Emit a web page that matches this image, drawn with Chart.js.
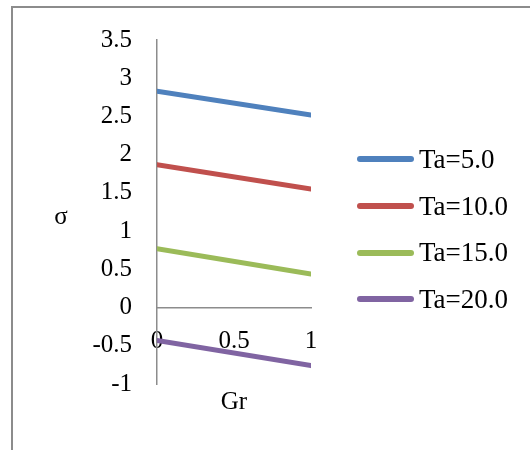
<!DOCTYPE html>
<html>
<head>
<meta charset="utf-8">
<script src="https://cdn.jsdelivr.net/npm/chart.js@4"></script>
<style>
  html, body { margin: 0; padding: 0; background: #fff; overflow: hidden; }
  #frame { position: absolute; left: 11px; top: 6px; width: 540px; height: 460px;
           border-left: 2px solid #8c8c8c; border-top: 2px solid #8c8c8c; }
  #wrap  { position: absolute; left: 0; top: 0; width: 530px; height: 450px; }
  #legend { position: absolute; left: 357px; top: 136px; margin: 0; padding: 0; list-style: none;
            font: 27px 'Liberation Serif', 'DejaVu Serif', serif; color: #000; }
  #legend li { display: flex; align-items: center; height: 46.7px; white-space: nowrap; }
  #legend .bar { display: inline-block; width: 57px; height: 6px; border-radius: 3px; margin-right: 5px; }
</style>
</head>
<body>
<div id="frame"></div>
<div id="wrap"><canvas id="chart"></canvas></div>
<ul id="legend"></ul>
<script>
// ── Data ───────────────────────────────────────────────────────
const grValues   = [0, 1];
const seriesName = ["Ta=5.0", "Ta=10.0", "Ta=15.0", "Ta=20.0"];
const sigmaTa5   = [2.83, 2.52];
const sigmaTa10  = [1.87, 1.55];
const sigmaTa15  = [0.77, 0.44];
const sigmaTa20  = [-0.43, -0.76];
const yMin = -1, yMax = 3.5, yStep = 0.5;
const xMin = 0,  xMax = 1,   xStep = 0.5;

const COLORS = ["#4F81BD", "#C0504D", "#9BBB59", "#8064A2"];
const AXIS   = "#8c8c8c";
const FONT   = "'Liberation Serif', 'DejaVu Serif', serif";

Chart.defaults.font.family = FONT;
Chart.defaults.font.size   = 25;
Chart.defaults.color       = "#000";

const toPts = ys => ys.map((y, i) => ({ x: grValues[i], y }));
const fmt   = v => String(Math.round(v * 10) / 10);

// ── σ label (upright, left of the axis) ───────────────────────
const sigmaLabel = {
  id: "sigmaLabel",
  afterDraw(chart) {
    const { ctx, chartArea: a } = chart;
    ctx.save();
    ctx.font = "25px " + FONT;
    ctx.fillStyle = "#000";
    ctx.textAlign = "center";
    ctx.textBaseline = "alphabetic";
    ctx.fillText("σ", a.left - 96, (a.top + a.bottom) / 2 + 12);
    ctx.restore();
  },
};

// ── HTML legend built from the chart's own legend items ───────
const htmlLegend = {
  id: "htmlLegend",
  afterUpdate(chart) {
    const ul = document.getElementById("legend");
    const items = Chart.defaults.plugins.legend.labels.generateLabels(chart);
    ul.innerHTML = items.map(it =>
      `<li><span class="bar" style="background:${it.strokeStyle}"></span>${it.text}</li>`
    ).join("");
  },
};

new Chart(document.getElementById("chart"), {
  type: "scatter",
  data: {
    datasets: [sigmaTa5, sigmaTa10, sigmaTa15, sigmaTa20].map((ys, i) => ({
      label: seriesName[i],
      data: toPts(ys),
      showLine: true,
      borderColor: COLORS[i],
      backgroundColor: COLORS[i],
      borderWidth: 5,
      borderCapStyle: "round",
      pointRadius: 0,
      pointHoverRadius: 0,
    })),
  },
  options: {
    responsive: true, maintainAspectRatio: false, animation: false,
    layout: { padding: { left: 0, top: 35, right: 219, bottom: 33 } },
    plugins: {
      tooltip: { enabled: false },
      legend: { display: false },
      title: {
        display: true, text: "Gr", position: "bottom", fullSize: false,
        font: { size: 25, weight: "normal", lineHeight: 1.2 }, color: "#000",
        padding: { top: 3, bottom: 0 },
      },
    },
    scales: {
      x: {
        type: "linear", position: { y: 0 },
        min: xMin, max: xMax,
        grid: { display: false, drawTicks: false },
        border: { display: true, color: AXIS, width: 1.5 },
        ticks: { stepSize: xStep, padding: 19, callback: fmt, maxRotation: 0 },
      },
      y: {
        position: "left",
        min: yMin, max: yMax,
        grid: { display: false, drawTicks: false },
        border: { display: true, color: AXIS, width: 1.5 },
        ticks: { stepSize: yStep, padding: 25, callback: fmt },
        afterFit: s => { s.width = 157; },
      },
    },
  },
  plugins: [sigmaLabel, htmlLegend],
});
</script>
</body>
</html>
